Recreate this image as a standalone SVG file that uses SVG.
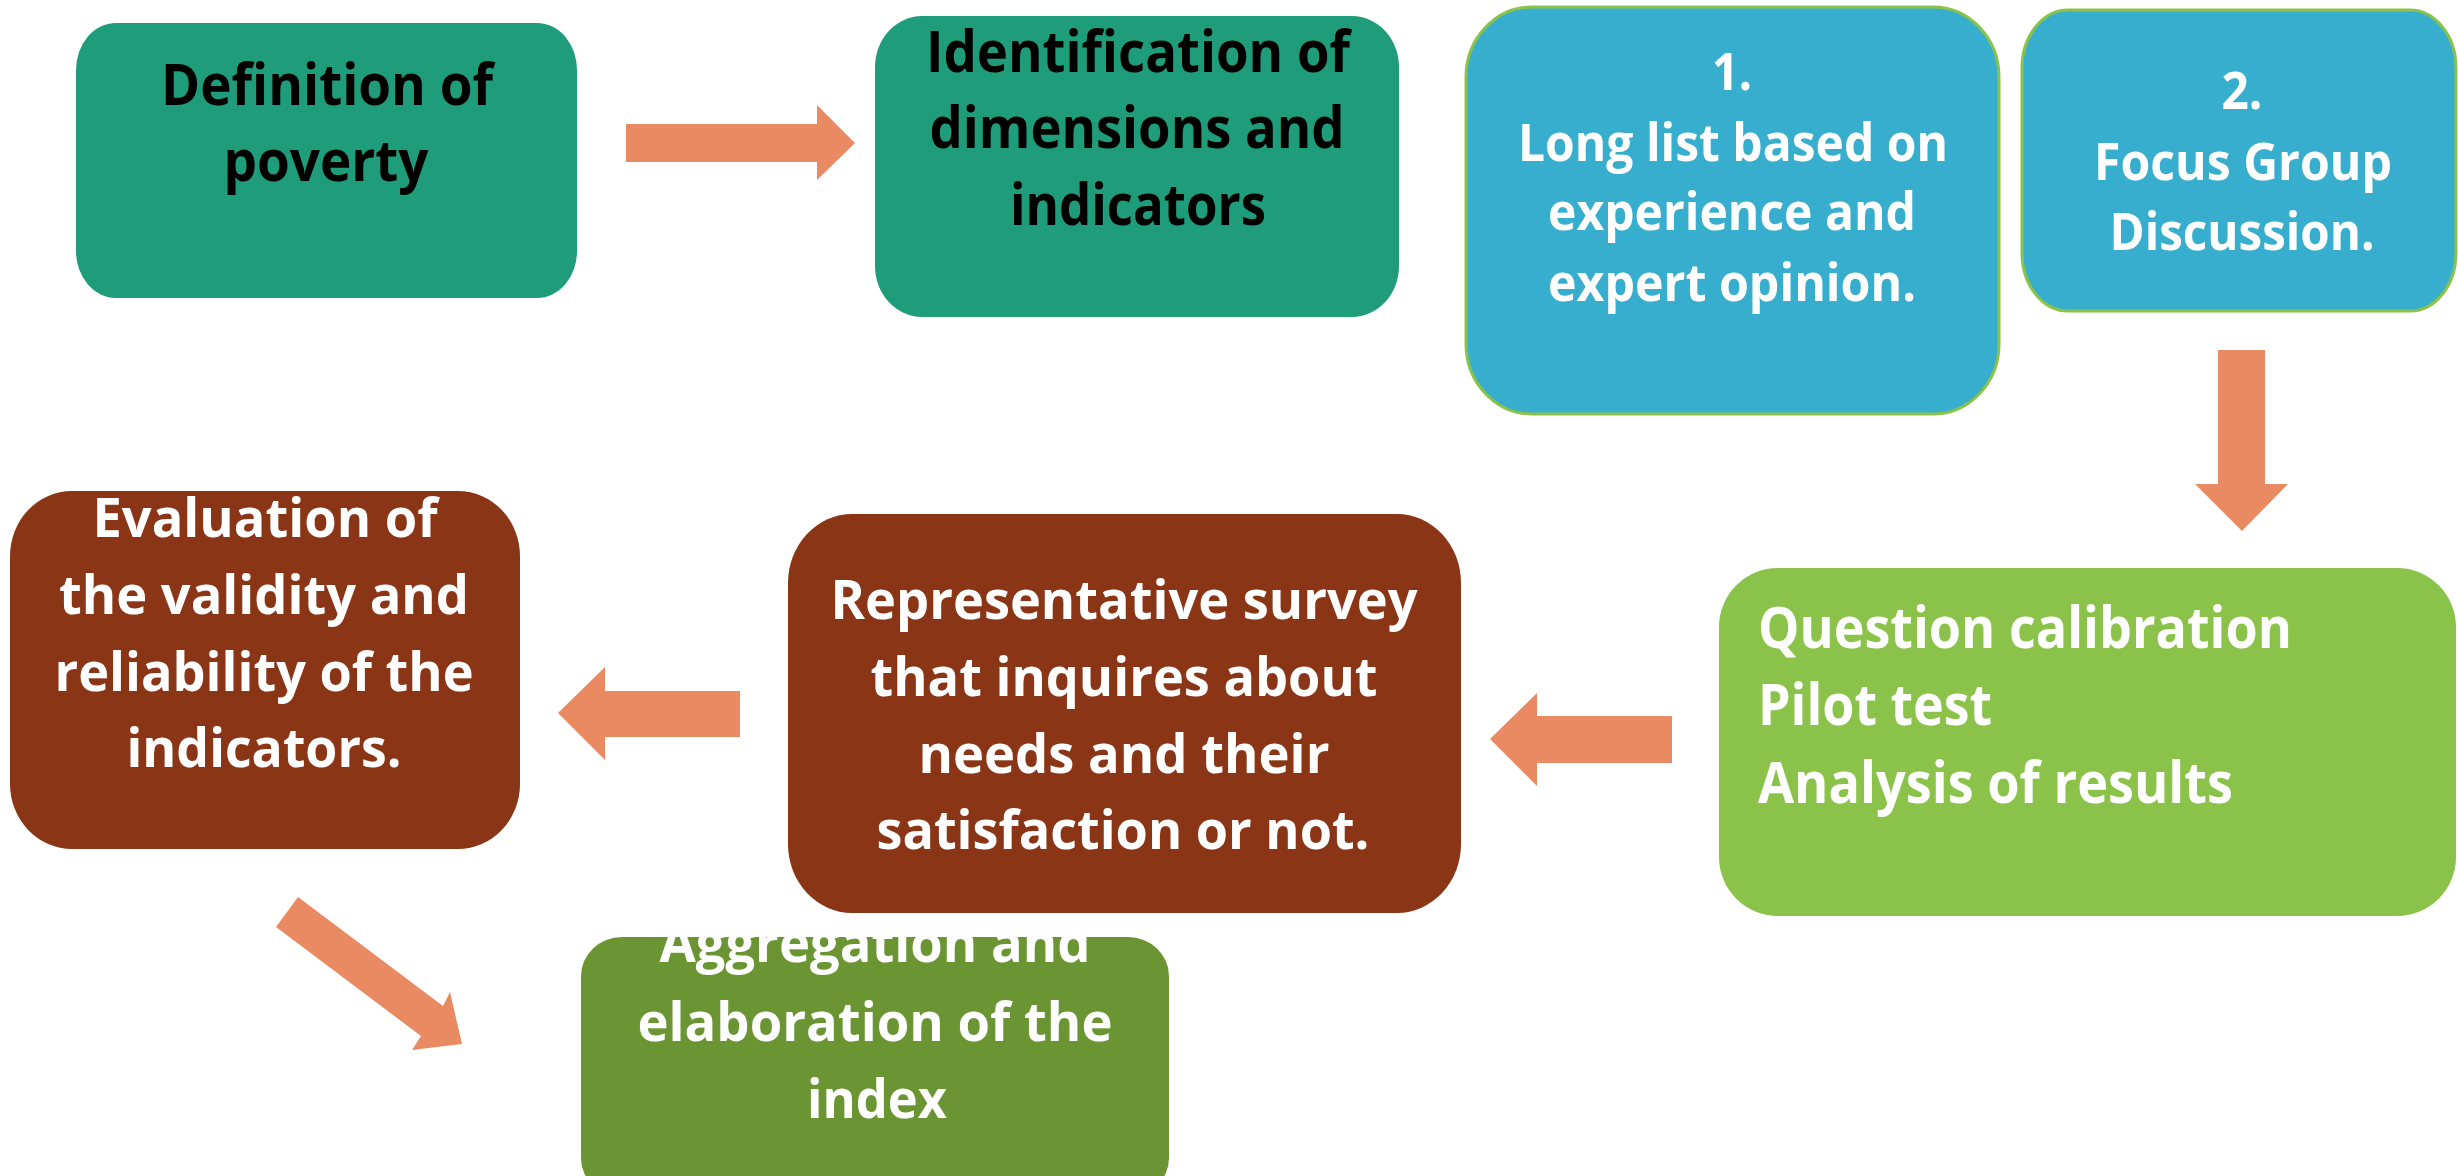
<svg xmlns="http://www.w3.org/2000/svg" width="2458" height="1176" viewBox="0 0 2458 1176">
<style>
.t{font-family:"Open Sans","Liberation Sans",sans-serif;font-weight:700;text-anchor:middle}
.dk{fill:#000}
.wh{fill:#fff}
.arrow{fill:#E98A62}
.teal{fill:#1F9C79}
.blue{fill:#38AECE;stroke:#8BC34A;stroke-width:3}
.brown{fill:#8A3515}
.lime{fill:#8BC34A}
.olive{fill:#6A9532}
</style>
<defs>
<clipPath id="clipAgg"><rect x="581" y="937" width="588" height="260" rx="41" ry="39"/></clipPath>
</defs>
<rect width="2458" height="1176" fill="#fff"/>
<g id="connectors">
<polygon class="arrow" points="626,124 817,124 817,105 855,143 817,180 817,162 626,162"/>
<polygon class="arrow" points="2218,350 2265,350 2265,484 2288,484 2242,531 2195,484 2218,484"/>
<polygon class="arrow" points="1672,716 1537,716 1537,693 1490,739 1537,786 1537,763 1672,763"/>
<polygon class="arrow" points="740,691 605,691 605,667 558,713 605,760 605,737 740,737"/>
<polygon class="arrow" points="298,897 443,1006 450,992 462,1044 412,1050 421,1036 276,927"/>
</g>
<g id="n1">
<rect class="teal" x="76" y="23" width="501" height="275" rx="40" ry="47"/>
<text class="t dk" font-size="58"><tspan x="327" y="105" textLength="332" lengthAdjust="spacingAndGlyphs">Definition of</tspan><tspan x="326" y="181" textLength="205" lengthAdjust="spacingAndGlyphs">poverty</tspan></text>
</g>
<g id="n2">
<rect class="teal" x="875" y="16" width="524" height="301" rx="47" ry="51"/>
<text class="t dk" font-size="58"><tspan x="1138" y="72" textLength="424" lengthAdjust="spacingAndGlyphs">Identification of</tspan><tspan x="1137" y="148" textLength="415" lengthAdjust="spacingAndGlyphs">dimensions and</tspan><tspan x="1138" y="225" textLength="256" lengthAdjust="spacingAndGlyphs">indicators</tspan></text>
</g>
<g id="n3">
<rect class="blue" x="1466" y="7" width="533" height="407" rx="66" ry="70"/>
<text class="t wh" font-size="52"><tspan x="1732" y="90" textLength="40" lengthAdjust="spacingAndGlyphs">1.</tspan><tspan x="1733" y="161" textLength="430" lengthAdjust="spacingAndGlyphs">Long list based on</tspan><tspan x="1732" y="230" textLength="368" lengthAdjust="spacingAndGlyphs">experience and</tspan><tspan x="1732" y="301" textLength="368" lengthAdjust="spacingAndGlyphs">expert opinion.</tspan></text>
</g>
<g id="n4">
<rect class="blue" x="2022" y="10" width="434" height="301" rx="46" ry="58"/>
<text class="t wh" font-size="52"><tspan x="2242" y="109" textLength="41" lengthAdjust="spacingAndGlyphs">2.</tspan><tspan x="2243" y="180" textLength="298" lengthAdjust="spacingAndGlyphs">Focus Group</tspan><tspan x="2242" y="250" textLength="265" lengthAdjust="spacingAndGlyphs">Discussion.</tspan></text>
</g>
<g id="n5">
<rect class="lime" x="1719" y="568" width="737" height="348" rx="59" ry="59"/>
<text font-family="Open Sans, Liberation Sans, sans-serif" font-weight="700" font-size="57" fill="#fff"><tspan x="1758" y="648" textLength="534" lengthAdjust="spacingAndGlyphs">Question calibration</tspan><tspan x="1758" y="725" textLength="234" lengthAdjust="spacingAndGlyphs">Pilot test</tspan><tspan x="1758" y="803" textLength="475" lengthAdjust="spacingAndGlyphs">Analysis of results</tspan></text>
</g>
<g id="n6">
<rect class="brown" x="788" y="514" width="673" height="399" rx="64" ry="69"/>
<text class="t wh" font-size="54"><tspan x="1124" y="619" textLength="587" lengthAdjust="spacingAndGlyphs">Representative survey</tspan><tspan x="1124" y="696" textLength="507" lengthAdjust="spacingAndGlyphs">that inquires about</tspan><tspan x="1124" y="773" textLength="411" lengthAdjust="spacingAndGlyphs">needs and their</tspan><tspan x="1123" y="849" textLength="493" lengthAdjust="spacingAndGlyphs">satisfaction or not.</tspan></text>
</g>
<g id="n7">
<rect class="brown" x="10" y="491" width="510" height="358" rx="62" ry="65"/>
<text class="t wh" font-size="53"><tspan x="265" y="537" textLength="345" lengthAdjust="spacingAndGlyphs">Evaluation of</tspan><tspan x="264" y="614" textLength="410" lengthAdjust="spacingAndGlyphs">the validity and</tspan><tspan x="264" y="691" textLength="419" lengthAdjust="spacingAndGlyphs">reliability of the</tspan><tspan x="264" y="767" textLength="275" lengthAdjust="spacingAndGlyphs">indicators.</tspan></text>
</g>
<g id="n8">
<rect class="olive" x="581" y="937" width="588" height="260" rx="41" ry="39"/>
<text class="t wh" font-size="53" clip-path="url(#clipAgg)"><tspan x="875" y="962" textLength="431" lengthAdjust="spacingAndGlyphs">Aggregation and</tspan><tspan x="875" y="1041" textLength="475" lengthAdjust="spacingAndGlyphs">elaboration of the</tspan><tspan x="877" y="1118" textLength="140" lengthAdjust="spacingAndGlyphs">index</tspan></text>
</g>
</svg>
